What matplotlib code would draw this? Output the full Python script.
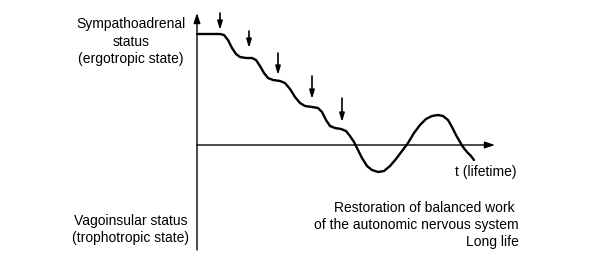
import matplotlib
matplotlib.use("Agg")
import matplotlib.pyplot as plt

# Curve: t (horizontal, from y-axis) and level (vertical, from t-axis)
t = [0, 13, 23, 27, 31, 35, 39, 43, 49, 55, 59, 63, 67, 71, 76, 83, 88, 93, 98, 103,
     108, 115, 121, 125, 129, 133, 138, 144, 149, 153, 157, 161, 165, 170, 175, 181,
     187, 193, 199, 205, 211, 217, 223, 229, 235, 241, 246, 251, 255, 259, 263, 266,
     270, 274, 277]
level = [111, 111, 111, 110, 105, 97, 91, 88, 87, 87, 85, 79, 72, 67, 65, 64, 62, 56,
         48, 42, 39, 38, 37, 33, 25, 19, 17, 16, 14, 9, 3, -5, -13, -21, -25, -27, -26,
         -21, -14, -6, 2, 12, 20, 26, 29, 30, 29, 25, 18, 10, 3, -2, -7, -11, -15]

# Arrows (time position, tip level, tail level)
arrow_t = [23, 52, 81, 115, 145]
arrow_tip = [115, 97, 70, 46, 23]
arrow_tail = [132, 114, 92, 69, 47]

upper_label = "Sympathoadrenal\nstatus\n(ergotropic state)"
lower_label = "Vagoinsular status\n(trophotropic state)"
time_label = "t (lifetime)"
note_label = "Restoration of balanced work \nof the autonomic nervous system\nLong life"

plt.rcParams['font.family'] = ['Liberation Sans', 'DejaVu Sans']

fig = plt.figure(figsize=(5.91, 2.75), dpi=100)
ax = fig.add_axes([0, 0, 1, 1])
ax.set_xlim(-197, 394)
ax.set_ylim(-130, 145)
ax.axis('off')

# axes with arrows
ax.annotate('', xy=(0, 132), xytext=(0, -105),
            arrowprops=dict(arrowstyle='-|>,head_length=0.6,head_width=0.2', lw=1.0, color='black',
                            shrinkA=0, shrinkB=0))
ax.annotate('', xy=(298, 0), xytext=(0, 0),
            arrowprops=dict(arrowstyle='-|>,head_length=0.6,head_width=0.2', lw=1.0, color='black',
                            shrinkA=0, shrinkB=0))

ax.plot(t, level, color='black', lw=1.7, solid_capstyle='round', solid_joinstyle='round')

for at, tip, tail in zip(arrow_t, arrow_tip, arrow_tail):
    ax.annotate('', xy=(at, tip), xytext=(at, tail),
                arrowprops=dict(arrowstyle='-|>,head_length=0.5,head_width=0.15', lw=1.2,
                                color='black', shrinkA=0, shrinkB=0))

fs = 10
ax.text(-66, 103.5, upper_label, ha='center', va='center', fontsize=fs, linespacing=1.3)
ax.text(-66, -84.5, lower_label, ha='center', va='center', fontsize=fs, linespacing=1.3)
ax.text(289, -27, time_label, ha='center', va='center', fontsize=fs)
ax.text(322, -80, note_label, ha='right', va='center', fontsize=fs, linespacing=1.3)

fig.savefig('out.png', dpi=100, facecolor='white')
